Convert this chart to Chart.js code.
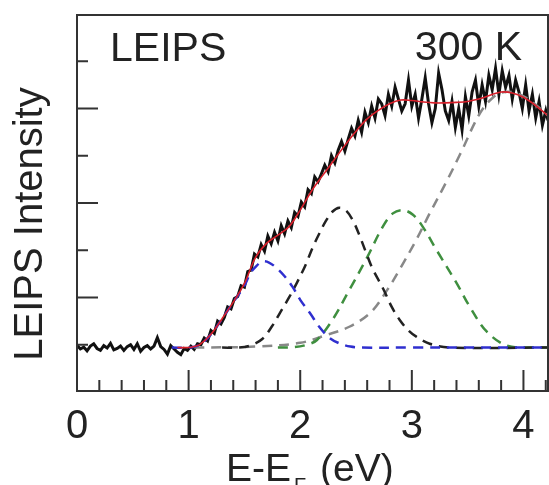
<!DOCTYPE html>
<html>
<head>
<meta charset="utf-8">
<script src="https://cdn.jsdelivr.net/npm/chart.js@4.4.0/dist/chart.umd.min.js"></script>
<style>
	html, body { margin: 0; padding: 0; background: #fff; }
	#wrap { width: 549px; height: 485px; }
</style>
</head>
<body>
<div id="wrap"><canvas id="myChart" width="549" height="485"></canvas></div>
<script>
// measured LEIPS spectrum (black)
const dataE = [0.00,0.03,0.06,0.09,0.12,0.15,0.18,0.21,0.24,0.27,0.30,0.33,0.36,0.39,0.42,0.45,0.48,0.51,0.54,0.57,
	0.60,0.63,0.66,0.69,0.72,0.75,0.78,0.81,0.84,0.87,0.90,0.93,0.96,0.99,1.02,1.05,1.08,1.11,1.14,1.17,
	1.20,1.23,1.26,1.29,1.32,1.35,1.38,1.41,1.44,1.47,1.50,1.53,1.56,1.59,1.62,1.65,1.68,1.71,1.74,1.77,
	1.80,1.83,1.86,1.89,1.92,1.95,1.98,2.01,2.04,2.07,2.10,2.13,2.16,2.19,2.22,2.25,2.28,2.31,2.34,2.37,
	2.40,2.43,2.46,2.49,2.52,2.55,2.58,2.61,2.64,2.67,2.70,2.73,2.76,2.79,2.82,2.85,2.88,2.91,2.94,2.97,
	3.00,3.03,3.06,3.09,3.12,3.15,3.18,3.21,3.24,3.27,3.30,3.33,3.36,3.39,3.42,3.45,3.48,3.51,3.54,3.57,
	3.60,3.63,3.66,3.69,3.72,3.75,3.78,3.81,3.84,3.87,3.90,3.93,3.96,3.99,4.02,4.05,4.08,4.11,4.14,4.17,
	4.20,4.22];
const dataI = [-0.01,-0.09,-0.05,-0.13,-0.03,0.02,-0.08,-0.12,-0.02,-0.07,0.03,-0.11,-0.08,-0.03,-0.12,-0.04,0.00,-0.10,0.02,-0.14,
	-0.06,-0.02,-0.09,-0.03,0.15,-0.04,-0.10,-0.20,-0.02,-0.09,-0.16,-0.21,-0.08,-0.12,-0.03,-0.10,0.02,0.00,0.14,0.08,
	0.30,0.24,0.50,0.44,0.58,0.80,0.76,0.98,1.02,1.25,1.22,1.55,1.58,1.92,1.86,2.12,1.98,2.30,2.14,2.38,
	2.20,2.52,2.35,2.62,2.48,2.80,2.72,3.02,2.92,3.28,3.20,3.55,3.45,3.62,3.80,3.66,4.00,3.85,4.12,4.30,
	4.10,4.35,4.58,4.42,4.75,4.50,4.92,4.70,5.05,4.80,5.20,5.10,4.85,5.30,5.05,5.45,5.20,4.95,5.10,5.60,
	5.05,5.30,4.80,5.20,5.65,5.10,4.70,5.00,5.75,5.40,4.95,4.75,5.15,4.60,5.00,4.55,5.25,4.85,5.35,5.60,
	5.05,5.50,5.15,5.70,5.40,5.85,5.30,5.80,5.45,5.70,5.20,5.60,5.35,5.00,5.50,4.95,5.30,4.80,5.15,4.65,
	4.95,4.75];

// total fit (red)
const fitE = [0.90,1.00,1.05,1.10,1.20,1.30,1.40,1.50,1.60,1.70,1.80,1.90,2.00,2.10,2.20,2.30,2.40,2.50,2.60,2.70,
	2.80,2.90,3.00,3.10,3.20,3.30,3.40,3.50,3.60,3.70,3.80,3.90,4.00,4.10,4.22];
const fitI = [-0.06,-0.06,-0.04,0.00,0.22,0.55,0.90,1.30,1.85,2.15,2.32,2.50,2.85,3.25,3.58,3.90,4.22,4.52,4.78,4.96,
	5.10,5.18,5.17,5.14,5.12,5.12,5.13,5.15,5.20,5.28,5.35,5.33,5.24,5.08,4.85];

// components (dashed)
const blueE = [0.85,1.00,1.10,1.20,1.30,1.40,1.50,1.55,1.60,1.66,1.72,1.79,1.86,1.93,2.00,2.09,2.17,2.26,2.35,2.45,2.55,3.00,3.50,4.22];
const blueI = [-0.06,-0.06,0.00,0.22,0.55,0.90,1.25,1.50,1.65,1.76,1.74,1.62,1.45,1.23,0.95,0.66,0.38,0.15,0.03,-0.04,-0.06,-0.06,-0.06,-0.06];

const kE = [1.30,1.45,1.55,1.66,1.75,1.82,1.90,1.97,2.05,2.11,2.17,2.23,2.29,2.35,2.41,2.47,2.53,2.59,2.65,2.74,2.82,2.89,2.97,3.04,3.16,3.34,4.22];
const kI = [-0.06,-0.06,-0.02,0.12,0.40,0.68,1.00,1.31,1.70,2.05,2.35,2.62,2.82,2.90,2.84,2.64,2.32,1.95,1.60,1.20,0.80,0.53,0.30,0.17,0.02,-0.06,-0.06];

const greenE = [1.80,1.95,2.06,2.15,2.29,2.44,2.60,2.74,2.83,2.92,3.01,3.10,3.22,3.40,3.52,3.67,3.85,4.06,4.22];
const greenI = [-0.06,-0.05,0.00,0.10,0.53,1.16,1.85,2.50,2.78,2.85,2.75,2.49,2.01,1.31,0.80,0.28,-0.02,-0.06,-0.06];

const grayE = [1.05,1.60,2.00,2.24,2.44,2.63,2.78,2.89,3.04,3.16,3.31,3.43,3.61,3.73,3.83,3.93,4.03,4.12,4.22];
const grayI = [-0.06,-0.04,0.04,0.21,0.38,0.68,1.16,1.59,2.22,2.78,3.45,4.02,4.90,5.24,5.35,5.33,5.22,5.06,4.85];

// ticks
const xMajor = [0, 1, 2, 3, 4];
const xMinor = [0.2,0.4,0.6,0.8,1.2,1.4,1.6,1.8,2.2,2.4,2.6,2.8,3.2,3.4,3.6,3.8,4.2];
const xLabels = ['0', '1', '2', '3', '4'];
const yMajor = [1, 3, 5];
const yMinor = [0, 2, 4, 6];

const FONT = '"Liberation Sans", Arial, Helvetica, sans-serif';

function pts(xs, ys){
	return xs.map((x, i) => ({x: x, y: ys[i]}));
}

function line(label, xs, ys, color, width, dash, order){
	return {
		label: label,
		data: pts(xs, ys),
		borderColor: color,
		borderWidth: width,
		borderDash: dash,
		pointRadius: 0,
		fill: false,
		tension: 0.35,
		order: order
	};
}

const framePlugin = {
	id: 'frame',
	afterDraw(chart){
		const ctx = chart.ctx;
		const a = chart.chartArea;
		const xs = chart.scales.x;
		const ys = chart.scales.y;
		ctx.save();
		ctx.strokeStyle = '#333';
		ctx.lineWidth = 2;
		ctx.strokeRect(a.left, a.top, a.right - a.left, a.bottom - a.top);

		// inward ticks
		ctx.beginPath();
		xMajor.forEach(v => { const p = xs.getPixelForValue(v); ctx.moveTo(p, a.bottom); ctx.lineTo(p, a.bottom - 21); });
		xMinor.forEach(v => { const p = xs.getPixelForValue(v); ctx.moveTo(p, a.bottom); ctx.lineTo(p, a.bottom - 11); });
		yMajor.forEach(v => { const p = ys.getPixelForValue(v); ctx.moveTo(a.left, p); ctx.lineTo(a.left + 21, p); });
		yMinor.forEach(v => { const p = ys.getPixelForValue(v); ctx.moveTo(a.left, p); ctx.lineTo(a.left + 11, p); });
		ctx.stroke();

		// tick labels
		ctx.fillStyle = '#222';
		ctx.font = '40px ' + FONT;
		ctx.textAlign = 'center';
		ctx.textBaseline = 'alphabetic';
		xMajor.forEach((v, i) => ctx.fillText(xLabels[i], xs.getPixelForValue(v), 438));

		// x title with subscript F
		ctx.textAlign = 'left';
		ctx.font = '39px ' + FONT;
		ctx.fillText('E-E', 226, 481);
		let w = ctx.measureText('E-E').width;
		ctx.font = '20px ' + FONT;
		ctx.fillText('F', 226 + w + 3, 492);
		let w2 = ctx.measureText('F').width;
		ctx.font = '39px ' + FONT;
		ctx.fillText(' (eV)', 226 + w + w2 + 6, 481);

		// y title
		ctx.save();
		ctx.translate(42, 224);
		ctx.rotate(-Math.PI / 2);
		ctx.textAlign = 'center';
		ctx.font = '40px ' + FONT;
		ctx.fillText('LEIPS Intensity', 0, 0);
		ctx.restore();

		// annotations
		ctx.font = '41px ' + FONT;
		ctx.textAlign = 'left';
		ctx.fillText('LEIPS', 110, 61);
		ctx.textAlign = 'right';
		ctx.fillText('300 K', 522, 60);
		ctx.restore();
	}
};

const ctx = document.getElementById('myChart').getContext('2d');
const myChart = new Chart(ctx, {
	type: 'line',
	data: {
		datasets: [
			line('fit', fitE, fitI, '#d9202b', 1.6, [], 1),
			line('peak 1', blueE, blueI, '#2f2fcf', 2.5, [10, 7], 2),
			line('peak 2', kE, kI, '#222222', 2.5, [10, 7], 3),
			line('peak 3', greenE, greenI, '#3f8f3f', 2.5, [10, 7], 4),
			line('peak 4', grayE, grayI, '#888888', 2.5, [10, 7], 5),
			Object.assign(line('LEIPS', dataE, dataI, '#111111', 3, [], 6), {tension: 0})
		]
	},
	options: {
		responsive: false,
		animation: false,
		layout: { padding: { left: 77, right: 1, top: 15, bottom: 94 } },
		plugins: { legend: { display: false }, tooltip: { enabled: false } },
		scales: {
			x: { type: 'linear', min: 0, max: 4.22, display: false },
			y: { type: 'linear', min: -0.98, max: 6.98, display: false }
		}
	},
	plugins: [framePlugin]
});
</script>
</body>
</html>
